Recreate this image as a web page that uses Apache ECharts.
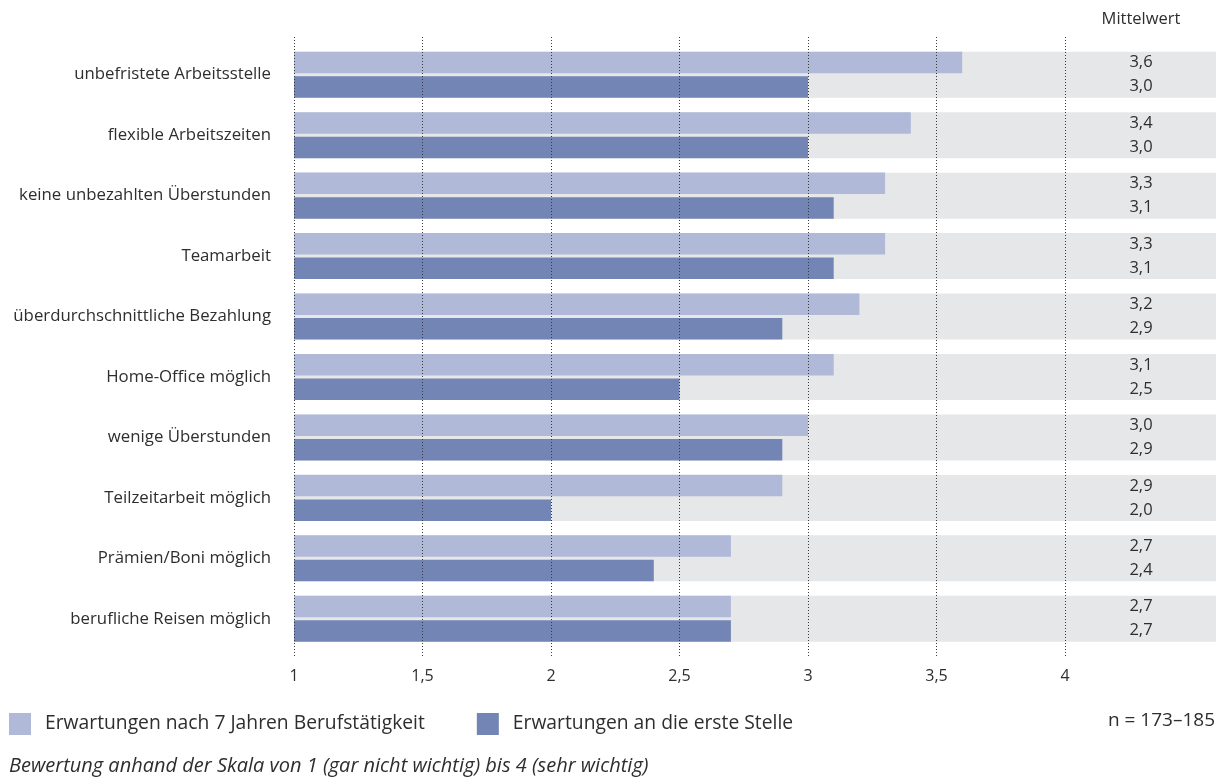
<!DOCTYPE html>
<html>
<head>
<meta charset="utf-8">
<script src="https://cdn.jsdelivr.net/npm/echarts@6/dist/echarts.min.js"></script>
<style>
  html, body { margin: 0; padding: 0; background: #ffffff; }
  #chart { width: 1226px; height: 778px; }
</style>
</head>
<body>
<div id="chart"></div>
<script>
// Arbeitsplatzmerkmale (von oben nach unten)
const categories = [
  'unbefristete Arbeitsstelle',
  'flexible Arbeitszeiten',
  'keine unbezahlten Überstunden',
  'Teamarbeit',
  'überdurchschnittliche Bezahlung',
  'Home-Office möglich',
  'wenige Überstunden',
  'Teilzeitarbeit möglich',
  'Prämien/Boni möglich',
  'berufliche Reisen möglich'
];

// Mittelwerte auf der Skala 1–4
const after7Years = [3.6, 3.4, 3.3, 3.3, 3.2, 3.1, 3.0, 2.9, 2.7, 2.7];
const firstJob    = [3.0, 3.0, 3.1, 3.1, 2.9, 2.5, 2.9, 2.0, 2.4, 2.7];

const seriesNames = [
  'Erwartungen nach 7 Jahren Berufstätigkeit',
  'Erwartungen an die erste Stelle'
];

// Achse: Skala von 1 bis 4, Schritt 0,5
const scaleMin = 1;
const scaleMax = 4;
const tickStep = 0.5;
// rechtes Ende der grauen Zeilenbänder (reicht bis unter die Mittelwert-Spalte)
const bandEnd = 4.5875;

const FONT = '"Open Sans", "Noto Sans", sans-serif';
const TEXT = '#2e2e2e';
const fmt = v => v.toFixed(1).replace('.', ',');

const chart = echarts.init(document.getElementById('chart'), null, { renderer: 'canvas' });

chart.setOption({
  animation: false,
  backgroundColor: '#ffffff',
  textStyle: { fontFamily: FONT, color: TEXT },
  grid: [
    // Balken
    { left: 294, right: 10, top: 44.5, bottom: 129, containLabel: false },
    // Gitterlinien und Achsenbeschriftung
    { left: 294, width: 771, top: 37, bottom: 121, containLabel: false }
  ],
  xAxis: [
    {
      gridIndex: 0, type: 'value', min: scaleMin, max: bandEnd,
      show: false
    },
    {
      gridIndex: 1, type: 'value', min: scaleMin, max: scaleMax, interval: tickStep,
      z: 10,
      axisLine: { show: false },
      axisTick: { show: false },
      axisLabel: {
        margin: 11, fontSize: 16, color: TEXT, fontFamily: FONT,
        formatter: v => String(v).replace('.', ',')
      },
      splitLine: {
        show: true,
        lineStyle: { color: '#3a3a3a', width: 1, type: [1, 2] }
      }
    }
  ],
  yAxis: [
    {
      gridIndex: 0, type: 'category', data: categories, inverse: true,
      axisLine: { show: false }, axisTick: { show: false }, splitLine: { show: false },
      axisLabel: { margin: 23, fontSize: 16.8, color: TEXT, fontFamily: FONT }
    },
    {
      gridIndex: 0, type: 'category', data: categories, inverse: true, show: false
    },
    { gridIndex: 1, type: 'value', show: false }
  ],
  legend: {
    left: 4, top: 708,
    itemWidth: 22, itemHeight: 22, itemGap: 52,
    icon: 'rect',
    data: seriesNames,
    selectedMode: false,
    textStyle: { fontSize: 19.3, color: TEXT, fontFamily: FONT, padding: [0, 0, 0, 9] }
  },
  title: [
    {
      text: 'Mittelwert', left: 1136, top: 6, textAlign: 'center',
      textStyle: { fontSize: 16.5, fontWeight: 'normal', color: TEXT, fontFamily: FONT }
    },
    {
      text: 'n = 173–185', right: 6, top: 706,
      textStyle: { fontSize: 19, fontWeight: 'normal', color: TEXT, fontFamily: FONT }
    },
    {
      text: 'Bewertung anhand der Skala von 1 (gar nicht wichtig) bis 4 (sehr wichtig)',
      left: 4, top: 751,
      textStyle: { fontSize: 20, fontWeight: 'normal', fontStyle: 'italic', color: TEXT, fontFamily: FONT }
    }
  ],
  series: [
    {
      // graue Zeilenbänder mit den Mittelwerten
      type: 'bar', xAxisIndex: 0, yAxisIndex: 1,
      data: categories.map(() => bandEnd),
      barWidth: 46,
      itemStyle: { color: '#e6e7e9' },
      silent: true,
      z: 1,
      label: {
        show: true,
        position: 'insideRight',
        distance: 75,
        align: 'center',
        verticalAlign: 'middle',
        formatter: p => '{v|' + fmt(after7Years[p.dataIndex]) + '}\n{v|' + fmt(firstJob[p.dataIndex]) + '}',
        rich: {
          v: { fontSize: 16.5, lineHeight: 24, color: TEXT, fontFamily: FONT, align: 'center' }
        }
      }
    },
    {
      name: seriesNames[0],
      type: 'bar', xAxisIndex: 0, yAxisIndex: 0,
      data: after7Years,
      barWidth: 21.5,
      barGap: '14%',
      itemStyle: { color: '#b0b9d7' },
      z: 2
    },
    {
      name: seriesNames[1],
      type: 'bar', xAxisIndex: 0, yAxisIndex: 0,
      data: firstJob,
      barWidth: 21.5,
      barGap: '14%',
      itemStyle: { color: '#7385b5' },
      z: 2
    }
  ]
});
</script>
</body>
</html>
